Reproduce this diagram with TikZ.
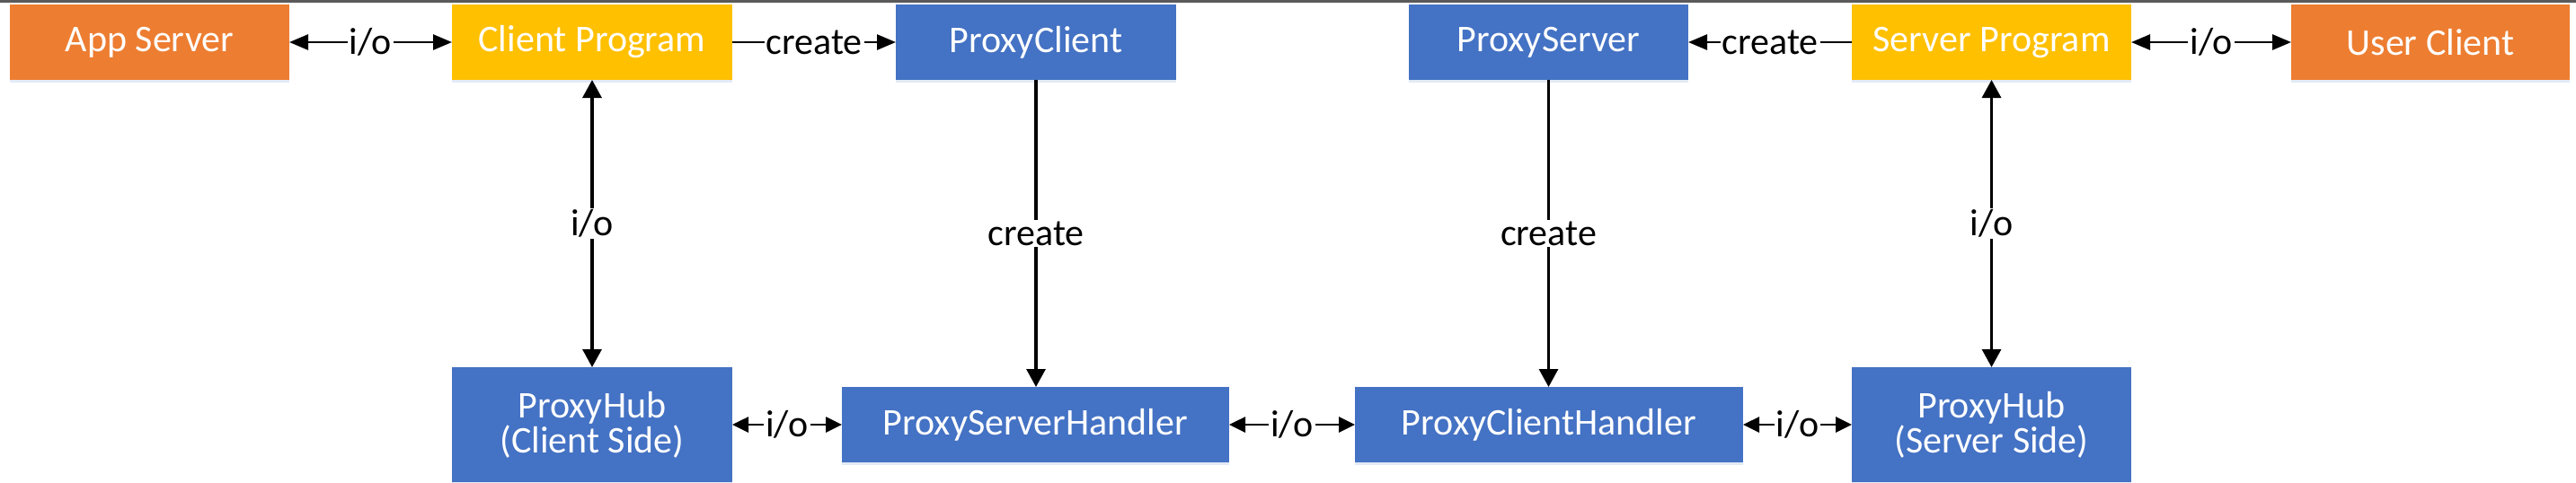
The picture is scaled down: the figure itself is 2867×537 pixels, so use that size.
\documentclass[tikz,border=0pt]{standalone}
\usepackage{fontspec}
\setmainfont{Carlito}
\usetikzlibrary{arrows.meta,shadows}
\definecolor{orng}{HTML}{ED7D31}
\definecolor{yell}{HTML}{FFC000}
\definecolor{blu}{HTML}{4472C4}
\definecolor{shade}{HTML}{E3EAF5}
\definecolor{topline}{HTML}{5A5A5A}
\tikzset{
  box/.style={inner sep=0pt, outer sep=0pt, text=white, align=center,
    font=\fontsize{21}{19.5}\selectfont, minimum height=42pt,
    drop shadow={shadow xshift=0pt, shadow yshift=-1.5pt, fill=shade, opacity=1}},
  obox/.style={box, fill=orng},
  ybox/.style={box, fill=yell},
  bbox/.style={box, fill=blu},
  lbl/.style={fill=white, inner xsep=1pt, inner ysep=1pt, text=black,
    font=\fontsize{21}{21}\selectfont},
  conn/.style={draw=black, line width=1.35pt},
  toptip/.style={conn, arrows={-Triangle[length=10.5pt,width=8.5pt]}},
  toptips/.style={conn, arrows={Triangle[length=10.5pt,width=8.5pt]-Triangle[length=10.5pt,width=8.5pt]}},
  vtip/.style={conn, line width=1.6pt, arrows={-Triangle[length=10pt,width=10.5pt]}},
  vtips/.style={conn, line width=1.6pt, arrows={Triangle[length=10pt,width=10.5pt]-Triangle[length=10pt,width=10.5pt]}},
  btips/.style={conn, arrows={Triangle[length=9pt,width=8.5pt]-Triangle[length=9pt,width=8.5pt]}},
}
\begin{document}
\begin{tikzpicture}[x=0.5pt,y=-0.5pt]
\fill[white] (0,0) rectangle (2867,537);
\useasboundingbox (0,0) rectangle (2867,537);
\fill[topline] (0,0) rectangle (2867,2.5);

% top row
\node[obox, minimum width=155.5pt] (app) at (166.5,47) {App Server};
\node[ybox, minimum width=156pt] (cp) at (659,47) {Client Program};
\node[bbox, minimum width=156pt] (pc) at (1153,47) {ProxyClient};
\node[bbox, minimum width=155.5pt] (ps) at (1723.5,47) {ProxyServer};
\node[ybox, minimum width=155.5pt] (sp) at (2216.5,47) {Server Program};
\node[obox, minimum width=155pt] (uc) at (2705,47) {User Client};

% bottom row
\node[bbox, minimum width=156pt, minimum height=64pt] (phc) at (659,473) {ProxyHub\\(Client Side)};
\node[bbox, minimum width=215.5pt] (psh) at (1152.5,473) {ProxyServerHandler};
\node[bbox, minimum width=216pt] (pch) at (1724,473) {ProxyClientHandler};
\node[bbox, minimum width=155.5pt, minimum height=64pt] (phs) at (2216.5,473) {ProxyHub\\(Server Side)};

% top connectors
\draw[toptips] (app) -- node[lbl] {i/o} (cp);
\draw[toptip] (cp) -- node[lbl] {create} (pc);
\draw[toptip] (sp) -- node[lbl] {create} (ps);
\draw[toptips] (sp) -- node[lbl] {i/o} (uc);

% vertical connectors
\draw[vtips] (cp) -- node[lbl] {i/o} (phc);
\draw[vtip] (pc.south) -- node[lbl] {create} (pc.south |- psh.north);
\draw[vtip] (ps.south) -- node[lbl] {create} (ps.south |- pch.north);
\draw[vtips] (sp) -- node[lbl] {i/o} (phs);

% bottom connectors
\draw[btips] (phc) -- node[lbl] {i/o} (psh);
\draw[btips] (psh) -- node[lbl] {i/o} (pch);
\draw[btips] (pch) -- node[lbl] {i/o} (phs);
\end{tikzpicture}
\end{document}
